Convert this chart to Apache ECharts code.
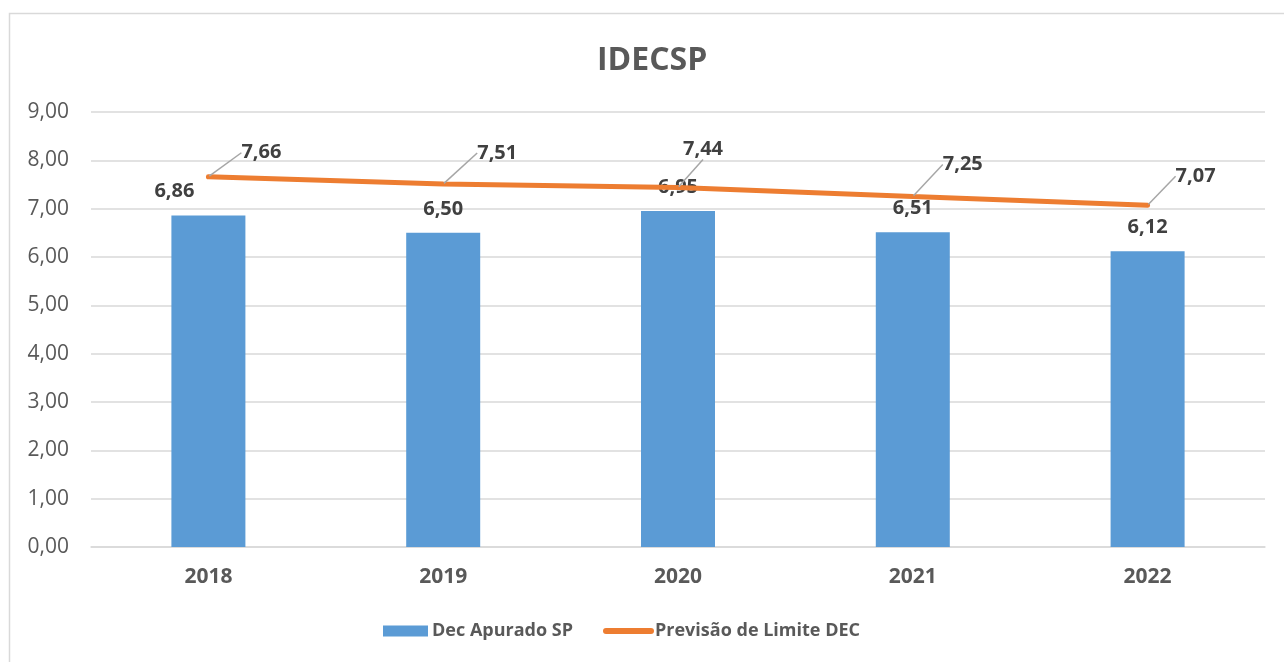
<!DOCTYPE html>
<html>
<head>
<meta charset="utf-8">
<script src="https://cdn.jsdelivr.net/npm/echarts@6/dist/echarts.min.js"></script>
<style>
html,body{margin:0;padding:0;background:#fff;}
#chart{width:1284px;height:662px;}
</style>
</head>
<body>
<div id="chart"></div>
<script>
const categories = ['2018', '2019', '2020', '2021', '2022'];
const decApurado = [6.86, 6.50, 6.95, 6.51, 6.12];
const previsaoLimite = [7.66, 7.51, 7.44, 7.25, 7.07];
const yTicks = [0, 1, 2, 3, 4, 5, 6, 7, 8, 9];

// label offsets (style only)
const lineLabelShift = [[53, -24], [54, -31], [25, -38], [50, -32], [48, -29]];
const barLabelShift = [[-34, 0], [0, 0], [0, 0], [0, 0], [0, 0]];

const fmt = v => v.toFixed(2).replace('.', ',');
const FONT = '"Open Sans", "Noto Sans", sans-serif';

const chart = echarts.init(document.getElementById('chart'), null, {renderer: 'canvas'});
chart.setOption({
  backgroundColor: '#ffffff',
  animation: false,
  textStyle: {fontFamily: FONT},
  graphic: [{
    type: 'rect', silent: true, z: -1,
    shape: {x: 9.5, y: 13.5, width: 1400, height: 800},
    style: {fill: 'none', stroke: '#d9d9d9', lineWidth: 1.5}
  }],
  title: {
    text: 'IDECSP', left: 592, top: 40,
    textStyle: {fontFamily: FONT, fontSize: 32, fontWeight: 'bold', color: '#595959'}
  },
  legend: {
    left: 378, top: 617,
    itemWidth: 45, itemHeight: 11, itemGap: 30,
    textStyle: {fontFamily: FONT, fontSize: 18, fontWeight: 'bold', color: '#595959', padding: [0, 0, 0, -1]},
    data: [
      {name: 'Dec Apurado SP', icon: 'rect'},
      {name: 'Previsão de Limite DEC', itemStyle: {opacity: 0}, lineStyle: {width: 6, color: '#ed7d31'}}
    ]
  },
  grid: {left: 91, right: 19, top: 112, bottom: 115, containLabel: false},
  xAxis: {
    type: 'category', data: categories,
    axisLine: {lineStyle: {color: '#d9d9d9', width: 1.5}},
    axisTick: {show: false},
    axisLabel: {margin: 20, fontFamily: FONT, fontSize: 21, fontWeight: 'bold', color: '#595959'}
  },
  yAxis: {
    type: 'value', min: yTicks[0], max: yTicks[yTicks.length - 1], interval: 1,
    axisLine: {show: false}, axisTick: {show: false},
    splitLine: {lineStyle: {color: '#d9d9d9', width: 1.5}},
    axisLabel: {margin: 22, fontFamily: FONT, fontSize: 21, color: '#595959', formatter: v => fmt(v)}
  },
  series: [
    {
      name: 'Dec Apurado SP', type: 'bar', barWidth: 74,
      itemStyle: {color: '#5b9bd5'},
      data: decApurado.map((v, i) => ({
        value: v,
        label: {offset: barLabelShift[i]}
      })),
      label: {
        show: true, position: 'top', distance: 14,
        fontFamily: FONT, fontSize: 20, fontWeight: 'bold', color: '#404040',
        formatter: p => fmt(p.value)
      },
      z: 2
    },
    {
      name: 'Previsão de Limite DEC', type: 'line',
      symbol: 'circle', symbolSize: 2, showSymbol: true,
      lineStyle: {color: '#ed7d31', width: 5, cap: 'round'},
      itemStyle: {color: '#ed7d31'},
      data: previsaoLimite,
      label: {
        show: true, position: 'inside',
        fontFamily: FONT, fontSize: 20, fontWeight: 'bold', color: '#404040',
        formatter: p => fmt(p.value)
      },
      labelLine: {show: true, lineStyle: {color: '#a6a6a6', width: 1.5}},
      labelLayout: p => ({dx: lineLabelShift[p.dataIndex][0], dy: lineLabelShift[p.dataIndex][1]}),
      z: 3
    }
  ]
});
</script>
</body>
</html>
